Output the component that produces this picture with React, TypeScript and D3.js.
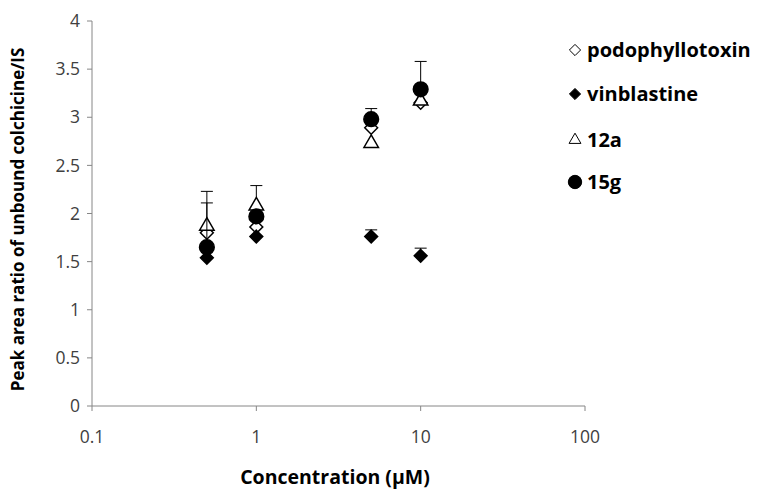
import React from "react";
import * as d3 from "d3";

const concentrations = [0.5, 1, 5, 10];
const seriesNames = ["podophyllotoxin", "vinblastine", "12a", "15g"];
const podophyllotoxin = [1.8, 1.86, 2.89, 3.15];
const podophyllotoxinErr = [0, 0, 0, 0];
const vinblastine = [1.54, 1.76, 1.76, 1.56];
const vinblastineErr = [0, 0, 0.07, 0.08];
const v12a = [1.87, 2.08, 2.73, 3.17];
const v12aErr = [0.36, 0.21, 0, 0];
const v15g = [1.65, 1.97, 2.98, 3.29];
const v15gErr = [0.46, 0, 0.11, 0.29];
const yTicks = [0, 0.5, 1, 1.5, 2, 2.5, 3, 3.5, 4];
const xTicks = [0.1, 1, 10, 100];

const W = 762, H = 492;
const x = d3.scaleLog().domain([0.1, 100]).range([92, 585]);
const y = d3.scaleLinear().domain([0, 4]).range([406, 21]);

const symbols = [
  { type: d3.symbolDiamond2, size: 105, fill: "#fff" },
  { type: d3.symbolDiamond2, size: 105, fill: "#000" },
  { type: d3.symbolTriangle2, size: 150, fill: "#fff" },
  { type: d3.symbolCircle, size: 170, fill: "#000" },
];
const legendSymbols = [
  { type: d3.symbolDiamond2, size: 80, fill: "#fff" },
  { type: d3.symbolDiamond2, size: 80, fill: "#000" },
  { type: d3.symbolTriangle2, size: 100, fill: "#fff" },
  { type: d3.symbolCircle, size: 140, fill: "#000" },
];

const data = [
  { vals: podophyllotoxin, errs: podophyllotoxinErr },
  { vals: vinblastine, errs: vinblastineErr },
  { vals: v12a, errs: v12aErr },
  { vals: v15g, errs: v15gErr },
];

const font = "'Open Sans', 'Liberation Sans', sans-serif";

export default function App() {
  const axisColor = "#868686";
  return (
    <svg width={W} height={H} style={{ position: "absolute", left: 0, top: 0, background: "#fff" }} fontFamily={font}>
      {/* axes */}
      <line x1={x(0.1)} x2={x(0.1)} y1={y(0)} y2={y(4)} stroke={axisColor} />
      <line x1={x(0.1)} x2={x(100)} y1={y(0)} y2={y(0)} stroke={axisColor} />
      {yTicks.map((t) => (
        <g key={"y" + t}>
          <line x1={x(0.1) - 5} x2={x(0.1)} y1={y(t)} y2={y(t)} stroke={axisColor} />
          <text x={80} y={y(t)} dy="0.35em" textAnchor="end" fontSize={17.5} fill="#404040">
            {t}
          </text>
        </g>
      ))}
      {xTicks.map((t) => (
        <g key={"x" + t}>
          <line x1={x(t)} x2={x(t)} y1={y(0)} y2={y(0) + 5} stroke={axisColor} />
          <text x={x(t)} y={437} dy="0.35em" textAnchor="middle" fontSize={17.5} fill="#404040">
            {t}
          </text>
        </g>
      ))}
      <text x={335} y={477} dy="0.35em" textAnchor="middle" fontSize={19.5} fontWeight="bold" fill="#000">
        Concentration (µM)
      </text>
      <text
        transform={`translate(18,${y(2) + 6}) rotate(-90)`}
        dy="0.35em"
        textAnchor="middle"
        fontSize={17}
        fontWeight="bold"
        fill="#000"
      >
        Peak area ratio of unbound colchicine/IS
      </text>
      {/* series */}
      {data.map((s, si) => (
        <g key={"s" + si}>
          {concentrations.map((c, i) =>
            s.errs[i] > 0 ? (
              <g key={"e" + i}>
                <line x1={x(c)} x2={x(c)} y1={y(s.vals[i])} y2={y(s.vals[i] + s.errs[i])} stroke="#000" />
                <line x1={x(c) - 6} x2={x(c) + 6} y1={y(s.vals[i] + s.errs[i])} y2={y(s.vals[i] + s.errs[i])} stroke="#000" />
              </g>
            ) : null
          )}
          {concentrations.map((c, i) => (
            <path
              key={"p" + i}
              d={d3.symbol().type(symbols[si].type).size(symbols[si].size)()!}
              transform={`translate(${x(c)},${y(s.vals[i])})`}
              fill={symbols[si].fill}
              stroke="#000"
              strokeWidth={1.5}
            />
          ))}
        </g>
      ))}
      {/* legend */}
      {seriesNames.map((n, i) => {
        const ly = [50, 94, 140, 182][i];
        return (
          <g key={"l" + i}>
            <path
              d={d3.symbol().type(legendSymbols[i].type).size(legendSymbols[i].size)()!}
              transform={`translate(575,${ly})`}
              fill={legendSymbols[i].fill}
              stroke="#000"
              strokeWidth={1}
            />
            <text x={587} y={ly} dy="0.35em" fontSize={20} fontWeight="bold" fill="#000">
              {n}
            </text>
          </g>
        );
      })}
    </svg>
  );
}
